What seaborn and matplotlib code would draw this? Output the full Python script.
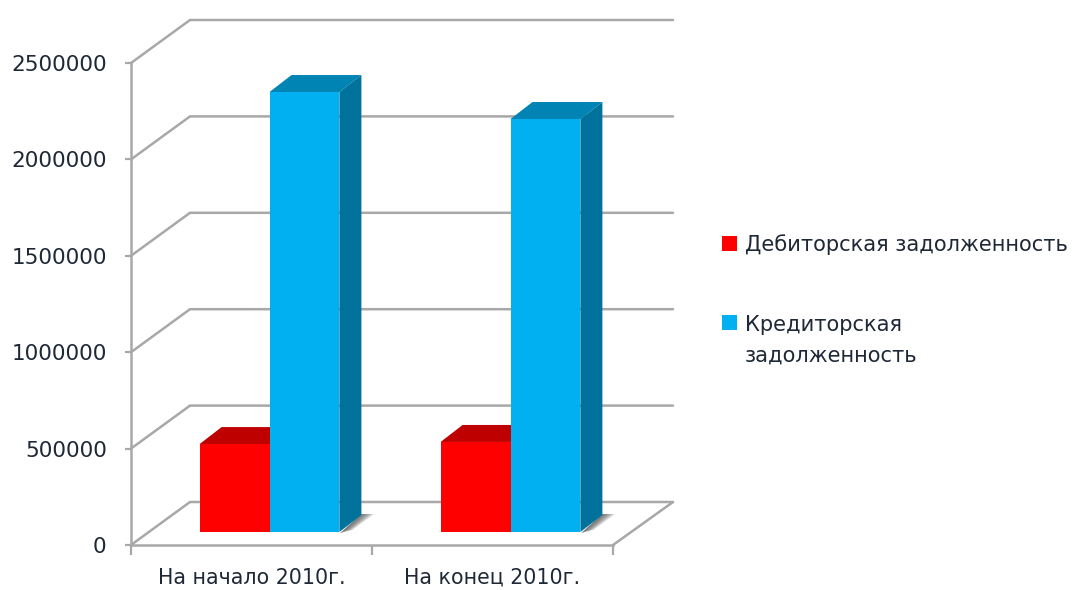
import matplotlib
matplotlib.use("Agg")
import matplotlib.pyplot as plt
from matplotlib.patches import Patch, Polygon
from matplotlib.transforms import Affine2D, IdentityTransform
import pandas as pd
import seaborn as sns

periods = ["На начало 2010г.", "На конец 2010г."]
series_names = ["Дебиторская задолженность", "Кредиторская задолженность"]
legend_labels = ["Дебиторская задолженность", "Кредиторская\nзадолженность"]
receivable = [456000, 467000]
payable = [2282000, 2142000]
y_ticks = [0, 500000, 1000000, 1500000, 2000000, 2500000]

front_colors = ["#ff0000", "#00b0f0"]
top_colors = ["#bf0000", "#0084b4"]
side_colors = ["#a80000", "#00729c"]
grid_color = "#a8a8a8"
text_color = "#1e2836"

df = pd.DataFrame({
    "period": periods * 2,
    "series": [series_names[0]] * 2 + [series_names[1]] * 2,
    "value": receivable + payable,
})

sns.set_theme(style="white")
plt.rcParams["font.family"] = ["DejaVu Sans"]

fig = plt.figure(figsize=(10.73, 5.9), dpi=100)
ax = fig.add_axes([131 / 1073, 45 / 590, 482 / 1073, 482 / 590])

sns.barplot(
    ax=ax, data=df, x="period", y="value", hue="series",
    palette=front_colors, saturation=1, width=0.58, gap=0, legend=False,
)
ax.set_xlim(-0.5, 1.5)
ax.set_ylim(0, 2500000)
ax.set(xlabel=None, ylabel=None)
ax.set_yticks(y_ticks)
ax.set_yticklabels([str(v) for v in y_ticks])
ax.set_xticks([-0.5, 0.5, 1.5], minor=True)
ax.tick_params(axis="x", which="major", length=0, pad=16.5, labelsize=14.8, labelcolor=text_color)
ax.tick_params(axis="x", which="minor", length=7, width=1.6, color=grid_color, bottom=True)
ax.tick_params(axis="y", length=4.5, width=1.6, color=grid_color, left=True, pad=13,
               labelsize=15.5, labelcolor=text_color)
ax.patch.set_alpha(0)
for name, spine in ax.spines.items():
    spine.set_visible(name in ("left", "bottom"))
    spine.set_color(grid_color)
    spine.set_linewidth(1.8)

# pixel depths of the fake 3d box and of the columns standing in it
wall_dx, wall_dy = 59, 43
bar_shift = (18, 13)
bar_dx, bar_dy = 22, 17

fig.canvas.draw()
to_px = ax.transData.transform
px = IdentityTransform()


def wall_line(xy, **kw):
    xs, ys = zip(*xy)
    ax.add_line(plt.Line2D(xs, ys, transform=px, color=grid_color, lw=1.8, zorder=1,
                           clip_on=False, solid_joinstyle="miter", **kw))


x_left, x_right = ax.get_xlim()
for v in y_ticks:
    fx, fy = to_px((x_left, v))
    rx, _ = to_px((x_right, v))
    wall_line([(fx, fy), (fx + wall_dx, fy + wall_dy), (rx + wall_dx + 1, fy + wall_dy)])
fx, fy = to_px((x_right, 0))
wall_line([(fx, fy), (fx + wall_dx + 1, fy + wall_dy)])

shift = Affine2D().translate(*bar_shift)
for i, bar in enumerate(ax.patches):
    color_i = 0 if i < 2 else 1
    x0, y0 = to_px((bar.get_x(), 0))
    x1, y1 = to_px((bar.get_x() + bar.get_width(), bar.get_height()))
    x0 += bar_shift[0]
    x1 += bar_shift[0]
    y0 += bar_shift[1]
    y1 += bar_shift[1]
    bar.set_transform(ax.transData + shift)
    bar.set_clip_on(False)
    bar.set_zorder(3)
    bar.set_linewidth(0)
    ax.add_patch(Polygon(
        [(x0, y1), (x1, y1), (x1 + bar_dx, y1 + bar_dy), (x0 + bar_dx, y1 + bar_dy)],
        transform=px, fc=top_colors[color_i], ec="none", zorder=2.5, clip_on=False))
    ax.add_patch(Polygon(
        [(x1, y0), (x1, y1), (x1 + bar_dx, y1 + bar_dy), (x1 + bar_dx, y0 + bar_dy)],
        transform=px, fc=side_colors[color_i], ec="none", zorder=2.5, clip_on=False))
    if color_i == 1:
        # soft shadow on the floor
        for k in range(8):
            grow = 1 + k * 1.7
            ax.add_patch(Polygon(
                [(x1 + 1, y0 - 1), (x1 + 6 + k, y0 + 2), (x1 + bar_dx + grow, y0 + bar_dy + 1),
                 (x1 + bar_dx, y0 + bar_dy + 1)],
                transform=px, fc="#555555", alpha=0.17, ec="none", zorder=2, clip_on=False))

handles = [Patch(fc=c, ec="none") for c in front_colors]
leg = fig.legend(
    handles, legend_labels, loc="upper left", bbox_to_anchor=(722 / 1073, 1 - 234 / 590),
    frameon=False, fontsize=15.1, handlelength=0.72, handleheight=0.72, handletextpad=0.38,
    labelspacing=2.85, labelcolor=text_color, borderpad=0, borderaxespad=0, alignment="left",
)
for t in leg.get_texts():
    t.set_linespacing(1.72)
# the marker of the wrapped entry sits on its first line
second = leg.legend_handles[1]
second.set_y(second.get_y() + 13)

plt.savefig("out.png", dpi=100)
